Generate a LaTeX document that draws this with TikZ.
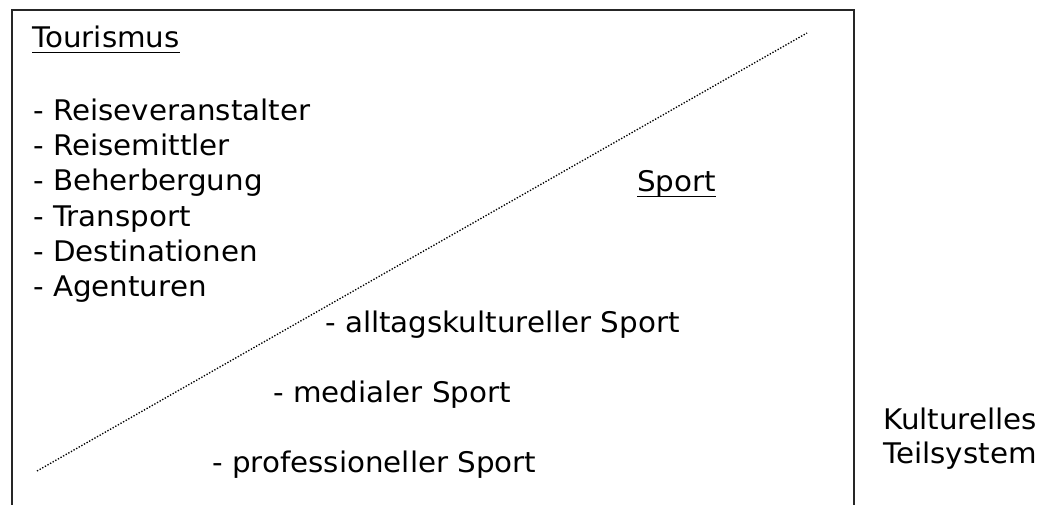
\documentclass[tikz,border=0pt]{standalone}
\usepackage{fontspec}
\setmainfont[FakeStretch=1.033]{DejaVu Sans}
\begin{document}
\begin{tikzpicture}[x=0.75pt,y=-0.75pt,
  label/.style={inner sep=0pt,anchor=base west,align=left,
    font=\fontsize{21.3pt}{26.5pt}\selectfont},
  frameline/.style={line width=1.4pt,black!85},
  divider/.style={line width=1pt,dash pattern=on 1pt off 1.25pt}]
  \useasboundingbox (0,0) rectangle (1049,505);
  % frame open at the bottom
  \coordinate (bl) at (12,505);
  \coordinate (tl) at (12,10);
  \coordinate (tr) at (854,10);
  \coordinate (br) at (854,505);
  \draw[frameline] (bl) -- (tl) -- (tr) -- (br);
  % diagonal dividing line
  \coordinate (d1) at (37,471);
  \coordinate (d2) at (807,33);
  \draw[divider] (d1) -- (d2);
  % tourism side (multi-line nodes sit on the baseline of their last line)
  \node[label] (tour) at (32,48) {Tourismus};
  \draw[line width=0.9pt] ([yshift=-3.2pt]tour.base west) -- ([yshift=-3.2pt]tour.base east);
  \node[label] (list) at (33,297) {- Reiseveranstalter\\- Reisemittler\\- Beherbergung\\- Transport\\- Destinationen\\- Agenturen};
  % sport side
  \node[label] (sport) at (637,192) {Sport};
  \draw[line width=0.9pt] ([yshift=-3.2pt]sport.base west) -- ([yshift=-3.2pt]sport.base east);
  \node[label] (alltag) at (325,333) {- alltagskultureller Sport};
  \node[label] (medial) at (273,403) {- medialer Sport};
  \node[label] (prof) at (212,473) {- professioneller Sport};
  % outside the frame
  \node[label,font=\fontsize{21.3pt}{25.5pt}\selectfont] (kultur) at (883,464) {Kulturelles\\Teilsystem};
\end{tikzpicture}
\end{document}
